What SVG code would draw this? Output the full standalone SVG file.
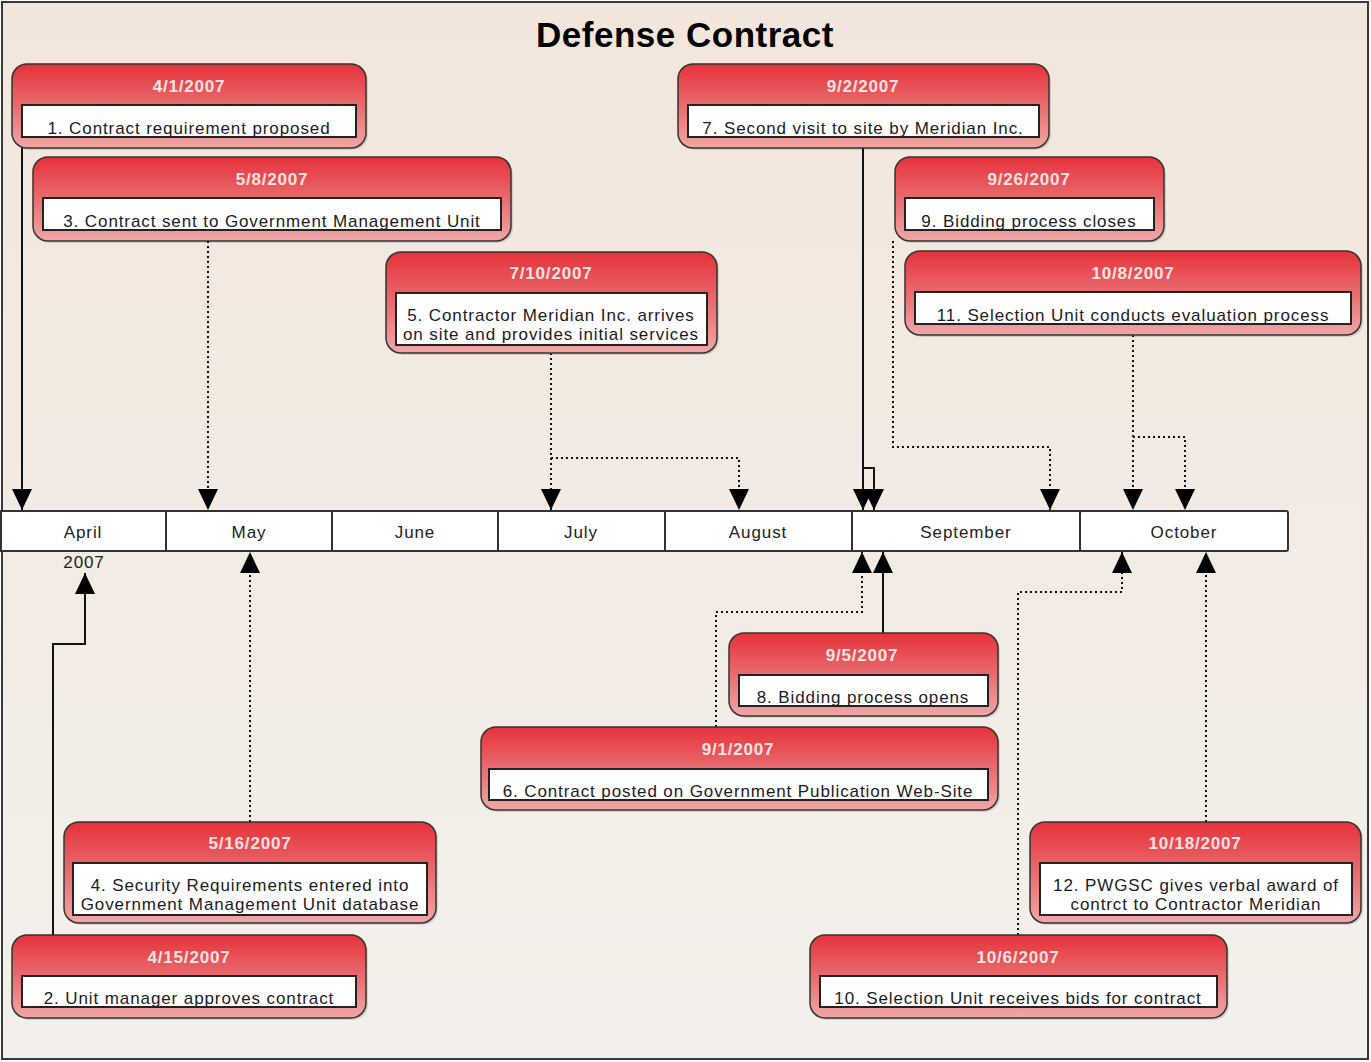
<svg xmlns="http://www.w3.org/2000/svg" width="1371" height="1062" viewBox="0 0 1371 1062">
<defs>
<linearGradient id="bg" x1="0" y1="0" x2="0" y2="1">
<stop offset="0" stop-color="#f2e6dc"/>
<stop offset="1" stop-color="#f3f0eb"/>
</linearGradient>
<linearGradient id="ng" x1="0" y1="0" x2="0" y2="1">
<stop offset="0" stop-color="#e5323a"/>
<stop offset="0.5" stop-color="#e86c6e"/>
<stop offset="1" stop-color="#f0a7a7"/>
</linearGradient>
<marker id="ah" viewBox="0 0 21 20" refX="21" refY="10" markerWidth="21" markerHeight="20" markerUnits="userSpaceOnUse" orient="auto">
<path d="M0,0 L21,10 L0,20 z" fill="#000"/>
</marker>
<clipPath id="c1"><rect x="22" y="105" width="334" height="32"/></clipPath>
<clipPath id="c3"><rect x="43" y="198" width="458" height="32"/></clipPath>
<clipPath id="c5"><rect x="396" y="293" width="311" height="52"/></clipPath>
<clipPath id="c7"><rect x="688" y="105" width="351" height="32"/></clipPath>
<clipPath id="c9"><rect x="905" y="198" width="249" height="32"/></clipPath>
<clipPath id="c11"><rect x="915" y="292" width="436" height="32"/></clipPath>
<clipPath id="c8"><rect x="739" y="675" width="249" height="31"/></clipPath>
<clipPath id="c6"><rect x="489" y="769" width="499" height="31"/></clipPath>
<clipPath id="c4"><rect x="73" y="863" width="354" height="52"/></clipPath>
<clipPath id="c2"><rect x="22" y="976" width="334" height="31"/></clipPath>
<clipPath id="c12"><rect x="1040" y="863" width="312" height="52"/></clipPath>
<clipPath id="c10"><rect x="820" y="976" width="397" height="31"/></clipPath>
</defs>
<style>
.outer{fill:url(#ng);stroke:#333;stroke-width:1.5}
.shadow{fill:#000;opacity:0.12}
.inner{fill:#fff;stroke:#222;stroke-width:2}
.date{font-family:"Liberation Sans",Arial,sans-serif;font-size:17px;font-weight:bold;letter-spacing:0.8px;fill:#fde2e2;text-anchor:middle}
.txt{font-family:"Liberation Sans",Arial,sans-serif;font-size:17px;letter-spacing:0.9px;fill:#1a1a24;text-anchor:middle}
.mon{font-family:"Liberation Sans",Arial,sans-serif;font-size:17px;letter-spacing:0.9px;fill:#222;text-anchor:middle}
.seg{fill:#fff;stroke:#333;stroke-width:2}
.solid{fill:none;stroke:#111;stroke-width:2;marker-end:url(#ah)}
.dot{fill:none;stroke:#111;stroke-width:2;stroke-dasharray:2 3;marker-end:url(#ah)}
</style>
<rect x="2" y="2" width="1366" height="1057" fill="url(#bg)" stroke="#3a3a3a" stroke-width="2"/>
<text x="685" y="47" font-family="'Liberation Sans',Arial,sans-serif" font-size="35" font-weight="bold" letter-spacing="0.5" text-anchor="middle" fill="#000">Defense Contract</text>

<g id="timeline">
<rect class="seg" x="1" y="511" width="165" height="40"/>
<rect class="seg" x="166" y="511" width="166" height="40"/>
<rect class="seg" x="332" y="511" width="166" height="40"/>
<rect class="seg" x="498" y="511" width="167" height="40"/>
<rect class="seg" x="665" y="511" width="187" height="40"/>
<rect class="seg" x="852" y="511" width="228" height="40"/>
<rect class="seg" x="1080" y="511" width="208" height="40" rx="2"/>
<text class="mon" x="83" y="538">April</text>
<text class="mon" x="249" y="538">May</text>
<text class="mon" x="415" y="538">June</text>
<text class="mon" x="581" y="538">July</text>
<text class="mon" x="758" y="538">August</text>
<text class="mon" x="966" y="538">September</text>
<text class="mon" x="1184" y="538">October</text>
<text class="mon" x="84" y="568">2007</text>
</g>

<g id="connectors">
<path class="solid" d="M22,148 V510"/>
<path class="dot" d="M208,241 V510"/>
<path class="dot" d="M551,353 V510"/>
<path class="dot" d="M551,458 H739 V510"/>
<path class="solid" d="M863,148 V510"/>
<path class="solid" d="M863,468 H874 V510"/>
<path class="dot" d="M893,241 V447 H1050 V510"/>
<path class="dot" d="M1133,335 V510"/>
<path class="dot" d="M1133,437 H1185 V510"/>
<path class="solid" d="M53,935 V644 H85 V573"/>
<path class="dot" d="M250,822 V552"/>
<path class="dot" d="M716,727 V612 H862 V552"/>
<path class="solid" d="M883,633 V552"/>
<path class="dot" d="M1018,935 V592 H1122 V552"/>
<path class="dot" d="M1206,822 V552"/>
</g>

<g id="n1">
<rect class="shadow" x="14" y="66" width="354" height="84" rx="15"/>
<rect class="outer" x="12" y="64" width="354" height="84" rx="15"/>
<text class="date" x="189" y="92">4/1/2007</text>
<rect class="inner" x="22" y="105" width="334" height="32"/>
<text class="txt" x="189" y="134" clip-path="url(#c1)">1. Contract requirement proposed</text>
</g>
<g id="n3">
<rect class="shadow" x="35" y="159" width="478" height="84" rx="15"/>
<rect class="outer" x="33" y="157" width="478" height="84" rx="15"/>
<text class="date" x="272" y="185">5/8/2007</text>
<rect class="inner" x="43" y="198" width="458" height="32"/>
<text class="txt" x="272" y="227" clip-path="url(#c3)">3. Contract sent to Government Management Unit</text>
</g>
<g id="n5">
<rect class="shadow" x="388" y="254" width="331" height="101" rx="15"/>
<rect class="outer" x="386" y="252" width="331" height="101" rx="15"/>
<text class="date" x="551" y="279">7/10/2007</text>
<rect class="inner" x="396" y="293" width="311" height="52"/>
<g clip-path="url(#c5)">
<text class="txt" x="551" y="321">5. Contractor Meridian Inc. arrives</text>
<text class="txt" x="551" y="340">on site and provides initial services</text>
</g>
</g>
<g id="n7">
<rect class="shadow" x="680" y="66" width="371" height="84" rx="15"/>
<rect class="outer" x="678" y="64" width="371" height="84" rx="15"/>
<text class="date" x="863" y="92">9/2/2007</text>
<rect class="inner" x="688" y="105" width="351" height="32"/>
<text class="txt" x="863" y="134" clip-path="url(#c7)">7. Second visit to site by Meridian Inc.</text>
</g>
<g id="n9">
<rect class="shadow" x="897" y="159" width="269" height="84" rx="15"/>
<rect class="outer" x="895" y="157" width="269" height="84" rx="15"/>
<text class="date" x="1029" y="185">9/26/2007</text>
<rect class="inner" x="905" y="198" width="249" height="32"/>
<text class="txt" x="1029" y="227" clip-path="url(#c9)">9. Bidding process closes</text>
</g>
<g id="n11">
<rect class="shadow" x="907" y="253" width="456" height="84" rx="15"/>
<rect class="outer" x="905" y="251" width="456" height="84" rx="15"/>
<text class="date" x="1133" y="279">10/8/2007</text>
<rect class="inner" x="915" y="292" width="436" height="32"/>
<text class="txt" x="1133" y="321" clip-path="url(#c11)">11. Selection Unit conducts evaluation process</text>
</g>
<g id="n8">
<rect class="shadow" x="731" y="635" width="269" height="83" rx="15"/>
<rect class="outer" x="729" y="633" width="269" height="83" rx="15"/>
<text class="date" x="862" y="661">9/5/2007</text>
<rect class="inner" x="739" y="675" width="249" height="31"/>
<text class="txt" x="863" y="703" clip-path="url(#c8)">8. Bidding process opens</text>
</g>
<g id="n6">
<rect class="shadow" x="483" y="729" width="517" height="83" rx="15"/>
<rect class="outer" x="481" y="727" width="517" height="83" rx="15"/>
<text class="date" x="738" y="755">9/1/2007</text>
<rect class="inner" x="489" y="769" width="499" height="31"/>
<text class="txt" x="738" y="797" clip-path="url(#c6)">6. Contract posted on Government Publication Web-Site</text>
</g>
<g id="n4">
<rect class="shadow" x="66" y="824" width="372" height="101" rx="15"/>
<rect class="outer" x="64" y="822" width="372" height="101" rx="15"/>
<text class="date" x="250" y="849">5/16/2007</text>
<rect class="inner" x="73" y="863" width="354" height="52"/>
<g clip-path="url(#c4)">
<text class="txt" x="250" y="891">4. Security Requirements entered into</text>
<text class="txt" x="250" y="910">Government Management Unit database</text>
</g>
</g>
<g id="n2">
<rect class="shadow" x="14" y="937" width="354" height="83" rx="15"/>
<rect class="outer" x="12" y="935" width="354" height="83" rx="15"/>
<text class="date" x="189" y="963">4/15/2007</text>
<rect class="inner" x="22" y="976" width="334" height="31"/>
<text class="txt" x="189" y="1004" clip-path="url(#c2)">2. Unit manager approves contract</text>
</g>
<g id="n12">
<rect class="shadow" x="1032" y="824" width="331" height="101" rx="15"/>
<rect class="outer" x="1030" y="822" width="331" height="101" rx="15"/>
<text class="date" x="1195" y="849">10/18/2007</text>
<rect class="inner" x="1040" y="863" width="312" height="52"/>
<g clip-path="url(#c12)">
<text class="txt" x="1196" y="891">12. PWGSC gives verbal award of</text>
<text class="txt" x="1196" y="910">contrct to Contractor Meridian</text>
</g>
</g>
<g id="n10">
<rect class="shadow" x="812" y="937" width="417" height="83" rx="15"/>
<rect class="outer" x="810" y="935" width="417" height="83" rx="15"/>
<text class="date" x="1018" y="963">10/6/2007</text>
<rect class="inner" x="820" y="976" width="397" height="31"/>
<text class="txt" x="1018" y="1004" clip-path="url(#c10)">10. Selection Unit receives bids for contract</text>
</g>
</svg>
